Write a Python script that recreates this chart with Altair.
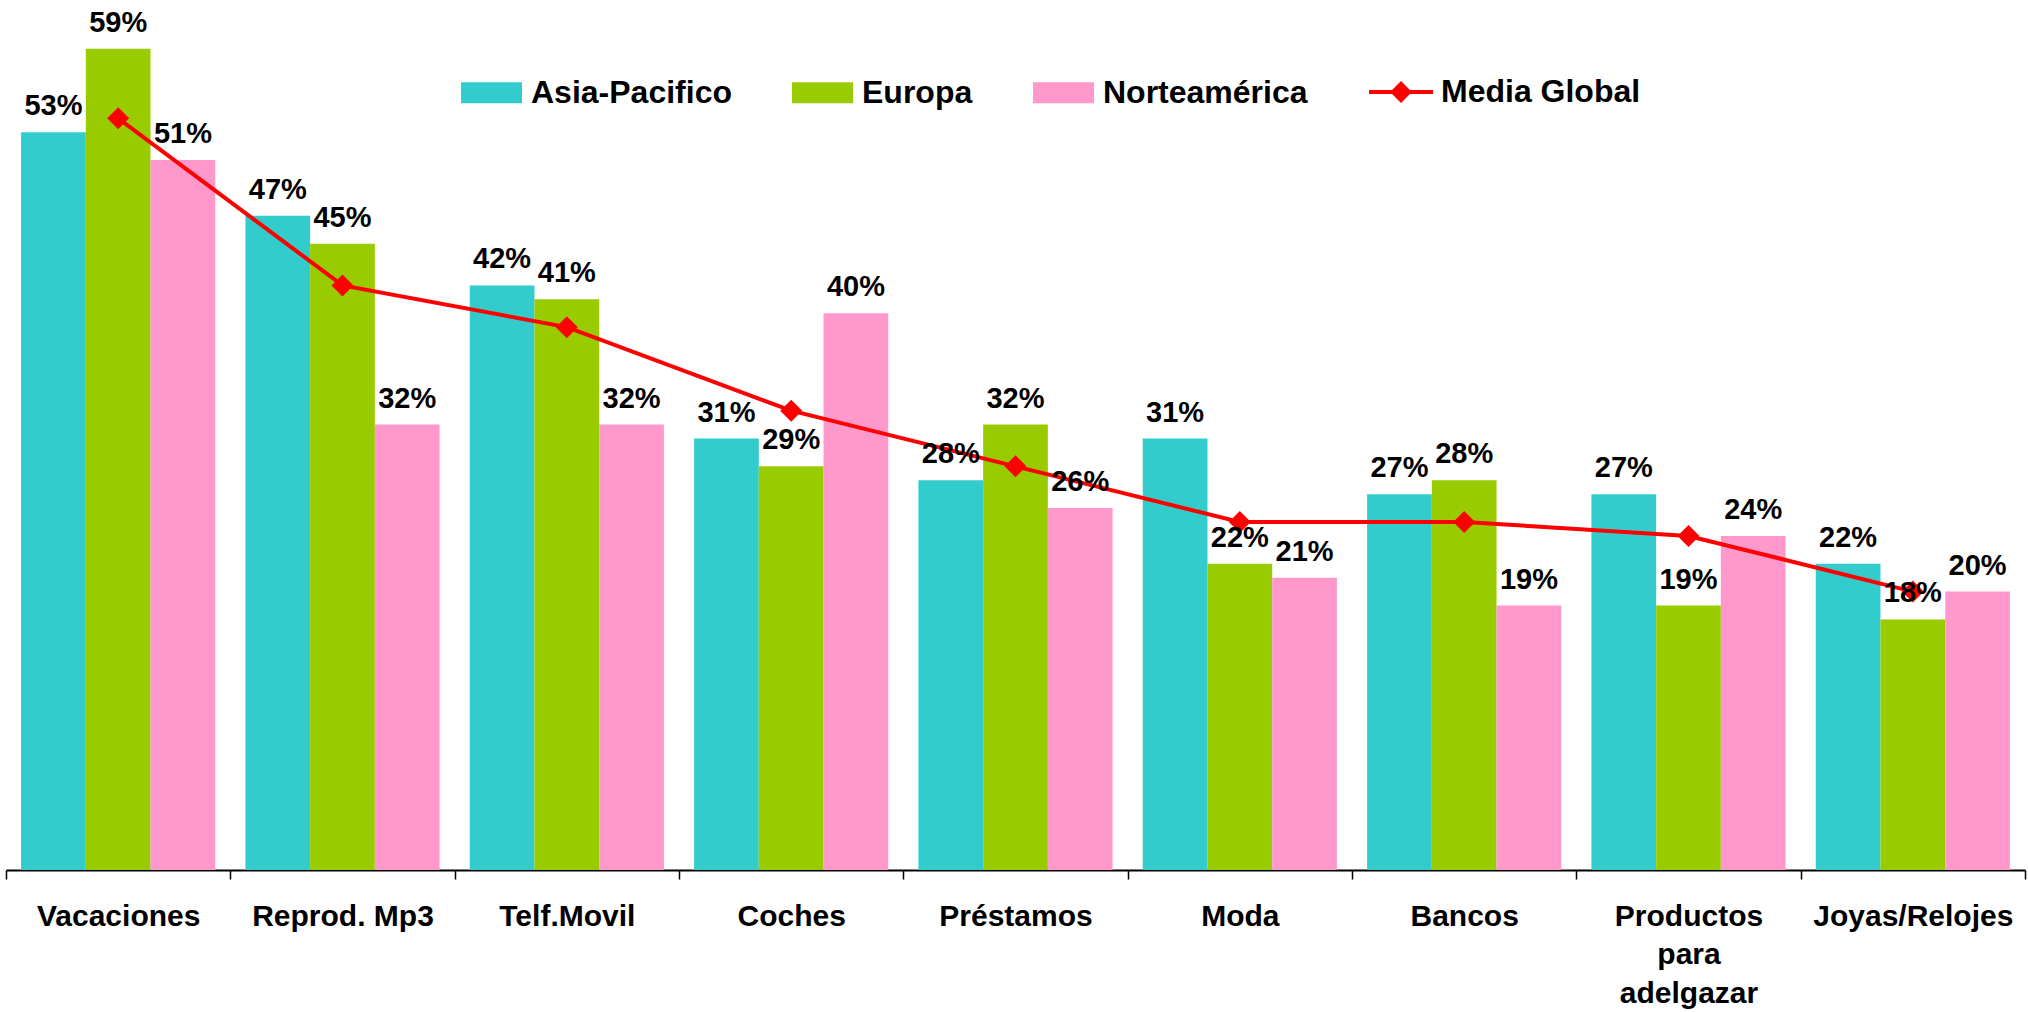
import altair as alt
import pandas as pd

categories = ["Vacaciones", "Reprod. Mp3", "Telf.Movil", "Coches", "Préstamos",
              "Moda", "Bancos", "Productos para adelgazar", "Joyas/Relojes"]
series = ["Asia-Pacifico", "Europa", "Norteamérica"]
asia = [53, 47, 42, 31, 28, 31, 27, 27, 22]
europa = [59, 45, 41, 29, 32, 22, 28, 19, 18]
norte = [51, 32, 32, 40, 26, 21, 19, 24, 20]
media = [54, 42, 39, 33, 29, 25, 25, 24, 20]
media_name = "Media Global"
bar_colors = ["#33CCCC", "#99CC00", "#FF99CC"]
line_color = "#FF0000"

rows = []
for s, vals in zip(series, [asia, europa, norte]):
    for c, v in zip(categories, vals):
        rows.append({"cat": c, "serie": s, "value": v})
bars_df = pd.DataFrame(rows)
line_df = pd.DataFrame({"cat": categories, "serie": media_name, "value": media})

FONT = "Liberation Sans"

rect_path = "M-1,-0.344L1,-0.344L1,0.344L-1,0.344Z"
line_path = "M-1,-0.0625L1,-0.0625L1,0.0625L-1,0.0625Z M-0.34,0L0,-0.34L0.34,0L0,0.34Z"

legend_common = dict(
    orient="none", direction="horizontal", title=None, labelFont=FONT,
    labelFontSize=32, labelFontWeight="bold", labelColor="black",
    symbolStrokeWidth=0, padding=0, labelLimit=0, symbolOpacity=1,
)

x_enc = alt.X(
    "cat:N", sort=categories,
    scale=alt.Scale(paddingInner=0, paddingOuter=0),
    axis=alt.Axis(
        title=None, labelAngle=0, labelFont=FONT, labelFontSize=30,
        labelFontWeight="bold", labelColor="black", tickBand="extent",
        tickSize=9, tickWidth=1.5, tickColor="black", domainColor="black",
        domainWidth=2, labelPadding=22, labelLimit=0, labelLineHeight=38.5,
        labelExpr="datum.label == 'Productos para adelgazar' ? ['Productos','para','adelgazar'] : datum.label",
    ),
)
y_scale = alt.Scale(domain=[0, 62], nice=False, zero=True)

bars = alt.Chart(bars_df).mark_bar().encode(
    x=x_enc,
    xOffset=alt.XOffset("serie:N", sort=series,
                        scale=alt.Scale(paddingOuter=0.233, paddingInner=0)),
    y=alt.Y("value:Q", scale=y_scale, axis=None),
    color=alt.Color(
        "serie:N",
        scale=alt.Scale(domain=series, range=bar_colors),
        legend=alt.Legend(legendX=455, legendY=55, symbolSize=3721,
                          symbolType=rect_path, labelOffset=9, columnPadding=60,
                          **legend_common),
    ),
)

labels = alt.Chart(bars_df).transform_calculate(
    lbl="datum.value + '%'"
).mark_text(
    font=FONT, fontSize=29, fontWeight="bold", color="black",
    baseline="alphabetic", dy=-17,
).encode(
    x=alt.X("cat:N", sort=categories),
    xOffset=alt.XOffset("serie:N", sort=series),
    y=alt.Y("value:Q", scale=y_scale),
    text="lbl:N",
)

line = alt.Chart(line_df).mark_line(strokeWidth=4, color=line_color).encode(
    x=alt.X("cat:N", sort=categories),
    y=alt.Y("value:Q", scale=y_scale),
)
points = alt.Chart(line_df).mark_point(shape="diamond", size=484, filled=True, opacity=1).encode(
    x=alt.X("cat:N", sort=categories),
    y=alt.Y("value:Q", scale=y_scale),
    color=alt.Color(
        "serie:N",
        scale=alt.Scale(domain=[media_name], range=[line_color]),
        legend=alt.Legend(legendX=1363, legendY=53, symbolSize=4096,
                          symbolType=line_path, labelOffset=8,
                          symbolFillColor=line_color, **legend_common),
    ),
)

chart = alt.layer(bars, line, points, labels).resolve_scale(
    color="independent"
).properties(
    width=2019, height=863,
    autosize=alt.AutoSizeParams(type="none"),
    padding={"left": 6, "top": 7, "right": 3, "bottom": 142},
    background="white",
).configure_view(stroke=None)

chart.save("out.html", embed_options={"renderer": "svg", "actions": False})
